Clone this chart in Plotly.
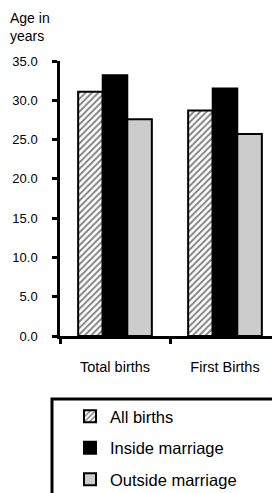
import plotly.graph_objects as go

categories = ["Total births", "First Births"]
series_names = ["All births", "Inside marriage", "Outside marriage"]
all_births = [31.1, 28.7]
inside_marriage = [33.2, 31.5]
outside_marriage = [27.6, 25.7]
y_ticks = [0, 5, 10, 15, 20, 25, 30, 35]

FONT = "Liberation Sans, Arial, sans-serif"

# page body has a default 8px margin; the figure is sized to fill the rest of the window
fig = go.Figure()
fig.add_trace(go.Bar(
    x=categories, y=all_births, name=series_names[0], legendgroup="a",
    marker=dict(color="white", line=dict(color="black", width=2),
                pattern=dict(shape="/", fgcolor="black", bgcolor="white", size=4.5, solidity=0.4)),
))
fig.add_trace(go.Bar(
    x=categories, y=inside_marriage, name=series_names[1], legendgroup="b",
    marker=dict(color="black", line=dict(color="black", width=2)),
))
fig.add_trace(go.Bar(
    x=categories, y=outside_marriage, name=series_names[2], legendgroup="c",
    marker=dict(color="#cccccc", line=dict(color="black", width=2)),
))

fig.update_layout(
    width=272, height=485,
    margin=dict(l=52, r=0, t=53, b=157, pad=0, autoexpand=False),
    plot_bgcolor="white", paper_bgcolor="white",
    font=dict(family=FONT, size=13, color="black"),
    barmode="group", bargap=0.33, bargroupgap=0,
    showlegend=True,
    legend=dict(
        x=(70 - 60) / 220, y=(336 - 399) / 275, xanchor="left", yanchor="top",
        borderwidth=0, bgcolor="rgba(0,0,0,0)",
        traceorder="grouped", tracegroupgap=7,
        font=dict(family=FONT, size=16.5, color="black"),
    ),
    xaxis=dict(
        showline=True, linecolor="black", linewidth=2.5,
        ticks="outside", tickson="boundaries", ticklen=5, tickwidth=2.5, tickcolor="black",
        ticklabelstandoff=16, tickfont=dict(size=14.5), tickangle=0, automargin=False,
        showgrid=False, zeroline=False,
    ),
    yaxis=dict(
        range=[0, 35], tickvals=y_ticks, tickformat=".1f",
        showline=True, linecolor="black", linewidth=2.5,
        ticks="outside", ticklen=5, tickwidth=2.5, tickcolor="black",
        ticklabelstandoff=12, tickfont=dict(size=13), automargin=False,
        showgrid=False, zeroline=False,
    ),
    shapes=[dict(
        type="rect", xref="paper", yref="paper",
        x0=(52 - 60) / 220, x1=1.2, y0=-0.8, y1=(336 - 399) / 275,
        line=dict(color="black", width=3), fillcolor="rgba(0,0,0,0)",
    )],
    annotations=[dict(
        text="Age in<br>years", xref="paper", yref="paper",
        x=(8 - 60) / 220, y=(336 - 8) / 275, xanchor="left", yanchor="top",
        showarrow=False, align="left", font=dict(family=FONT, size=14),
    )],
)

fig.write_html("out.html")
